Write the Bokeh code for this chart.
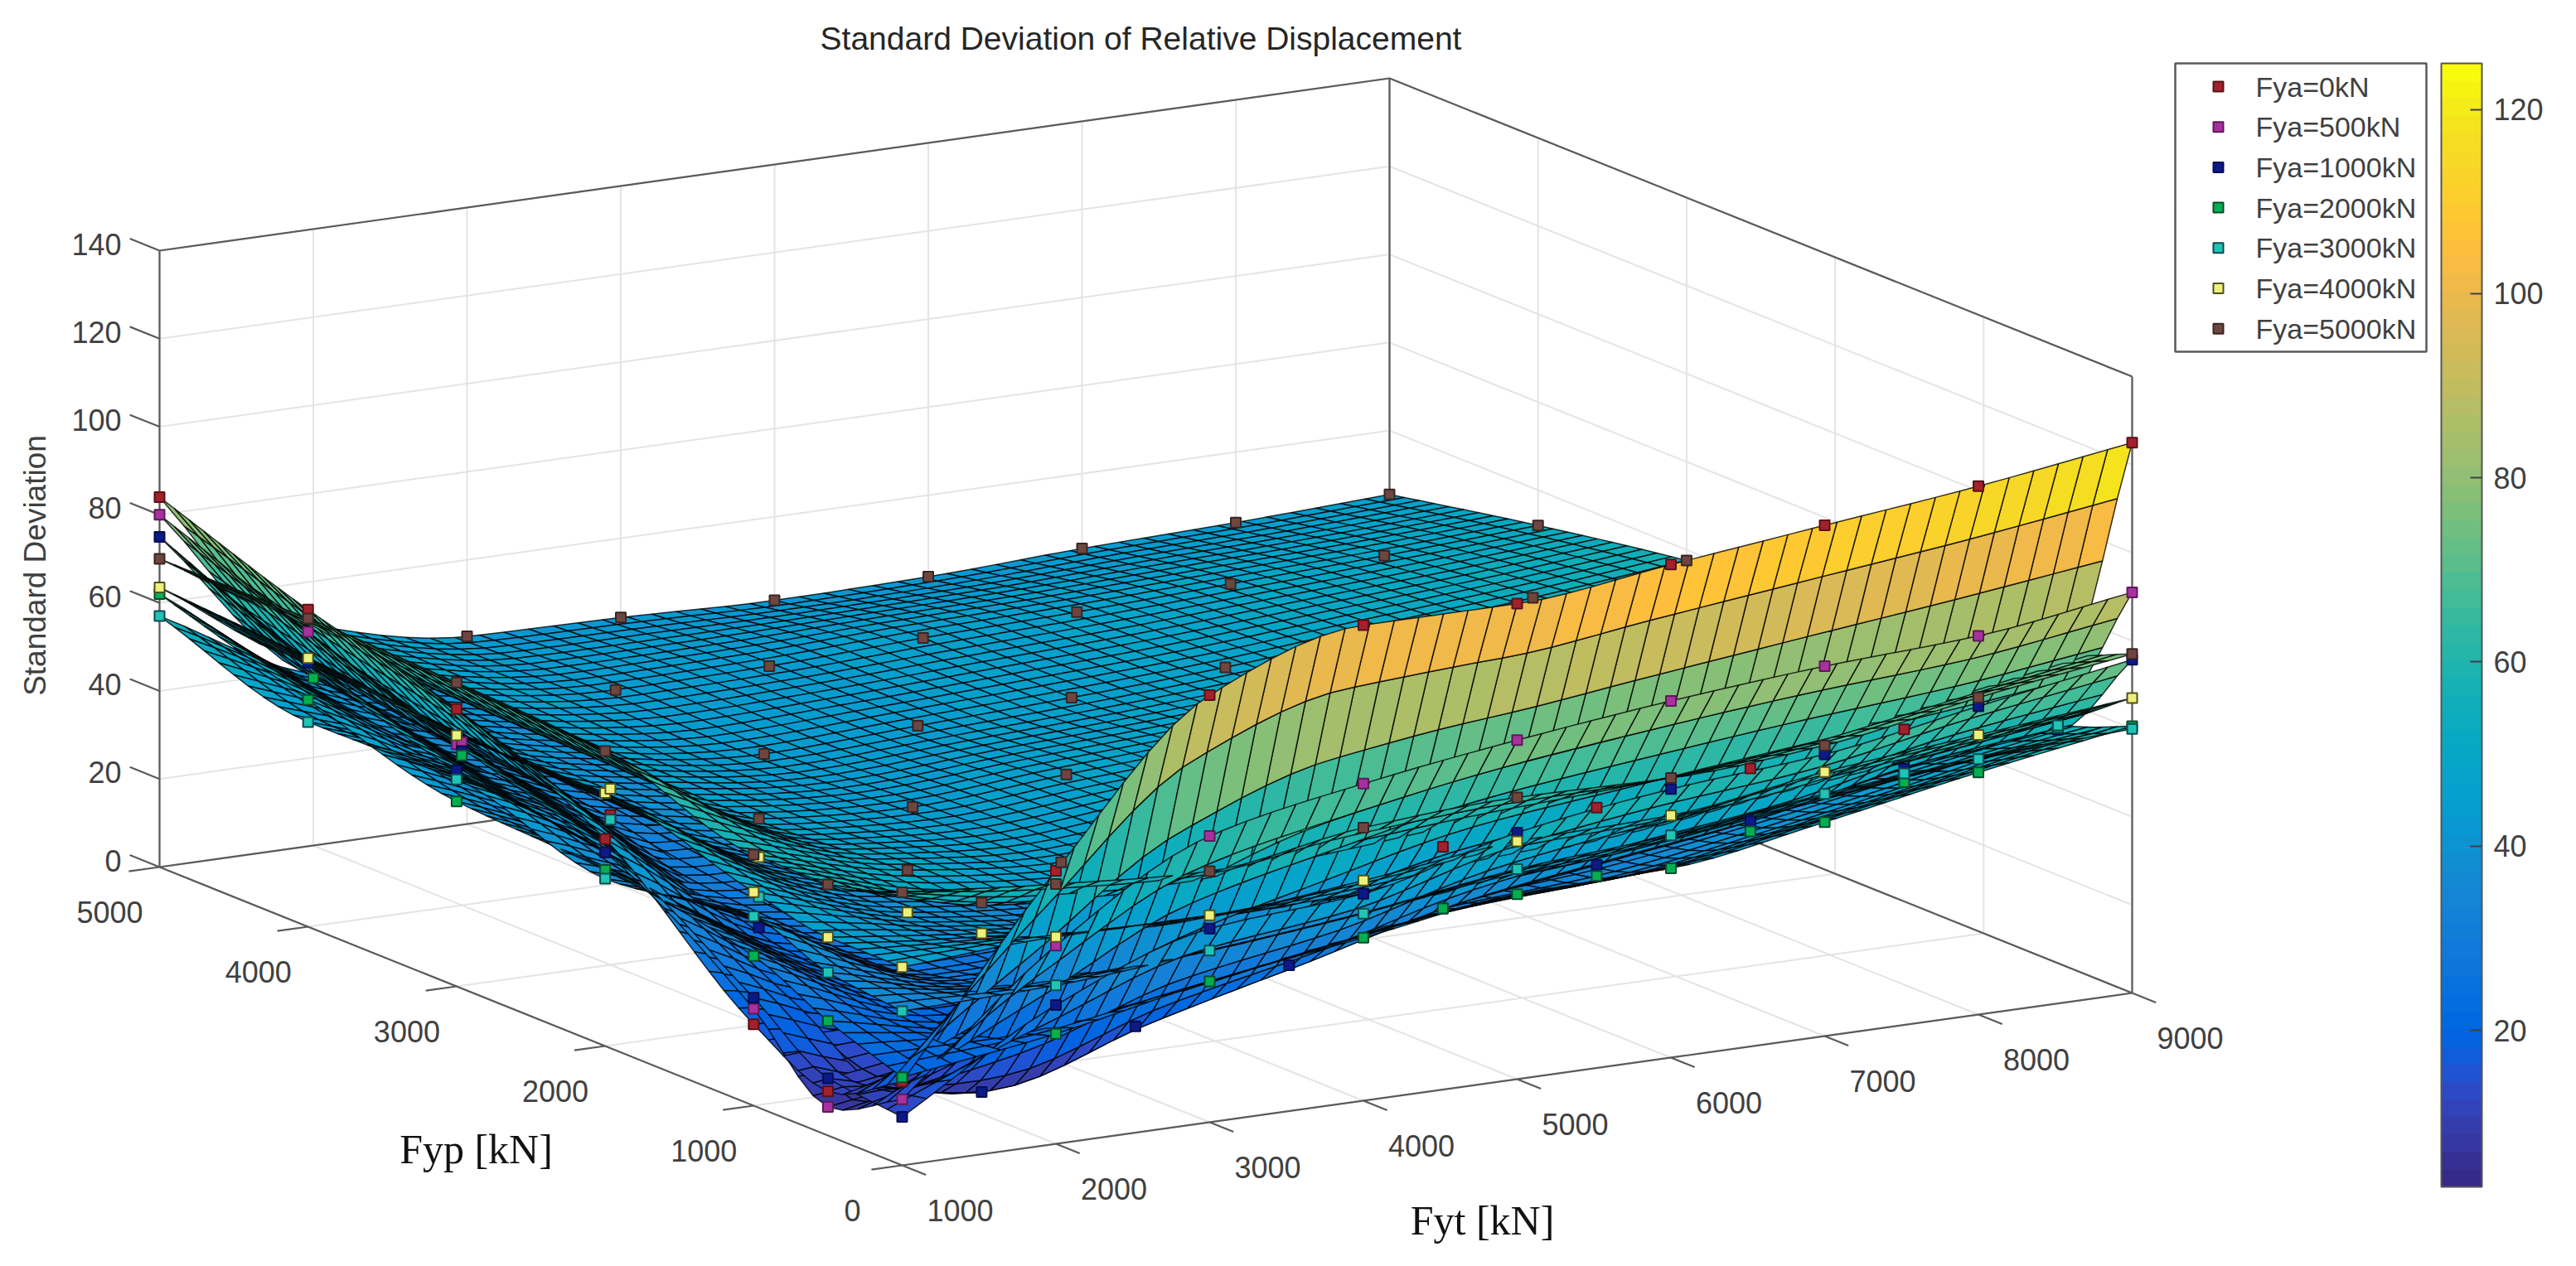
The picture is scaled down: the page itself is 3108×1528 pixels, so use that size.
import numpy as np
from bokeh.core.properties import value
from bokeh.embed import file_html
from bokeh.models import ColorBar, ColumnDataSource, FixedTicker, LinearColorMapper
from bokeh.plotting import figure
from bokeh.resources import INLINE

fyt_values = [1000, 2000, 3000, 4000, 5000, 6000, 7000, 8000, 9000]
fyp_values = [0, 500, 1000, 2000, 3000, 4000, 5000]
fyp_ticks = [0, 1000, 2000, 3000, 4000, 5000]
z_ticks = [0, 20, 40, 60, 80, 100, 120, 140]
cbar_ticks = [20, 40, 60, 80, 100, 120]
fya_labels = ["Fya=0kN", "Fya=500kN", "Fya=1000kN", "Fya=2000kN", "Fya=3000kN", "Fya=4000kN", "Fya=5000kN"]

# rows are Fyp, columns are Fyt
sd_fya_0 = [
    [19, 62, 97, 108, 108, 112, 116, 120, 125],
    [10, 16, 27, 38, 46, 50, 54, 58, 62],
    [18.5, 17, 22, 28, 33, 37, 41, 46, 52],
    [47, 25, 24, 26, 29, 32, 36, 41, 47],
    [63, 34, 30, 30, 31, 33, 36, 40, 45],
    [72, 38, 32, 31, 32, 33, 35, 38, 42],
    [84, 42, 34, 33, 33, 33, 34, 36, 39],
]
sd_fya_500 = [
    [15, 45, 65, 72, 77, 81, 84, 86, 91],
    [6.5, 12, 25, 34, 42, 46, 50, 54, 58],
    [22, 16, 21, 27, 32, 36, 40, 45, 51],
    [44, 24, 24, 26, 29, 32, 36, 41, 46],
    [55, 33, 29, 30, 31, 33, 36, 40, 45],
    [67, 37, 32, 31, 32, 33, 35, 38, 42],
    [80, 41, 34, 33, 33, 33, 34, 36, 39],
]
sd_fya_1000 = [
    [11, 31.5, 44, 47, 56, 61, 64, 70, 75.7],
    [13, 5, 15, 24, 32, 37, 42, 49, 53],
    [24.5, 13, 18, 24, 29, 33, 38, 43, 49],
    [44, 22, 22, 24, 27, 30, 34, 39, 45],
    [49, 30, 27, 28, 29, 31, 34, 38, 43],
    [60, 35, 30, 29, 30, 31, 33, 36, 40],
    [75, 39, 32, 31, 31, 31, 32, 34, 37],
]
sd_fya_2000 = [
    [20, 25, 32, 37, 42, 43, 48.6, 55, 60.6],
    [26, 20, 22, 28, 32, 34.5, 39.7, 46, 53.5],
    [34, 20, 22, 25, 29, 32, 36, 41, 48],
    [40, 24, 24, 25, 27, 29, 33, 38, 44],
    [42, 30, 27, 27, 28, 30, 33, 37, 42],
    [51.5, 34, 29, 28, 29, 30, 32, 35, 39],
    [62, 38, 31, 30, 30, 30, 31, 33, 36],
]
sd_fya_3000 = [
    [35, 36, 39, 42.5, 47.7, 50.5, 55, 58, 60],
    [37, 30, 30, 33, 36, 39, 43, 48, 54],
    [43, 27, 28, 30, 32, 35, 38, 43, 49],
    [38, 29, 29, 29, 30, 32, 35, 40, 46],
    [47, 33, 31, 30, 31, 32, 35, 39, 44],
    [46.5, 36, 32, 31, 31, 32, 34, 37, 41],
    [57, 39, 33, 32, 32, 32, 33, 35, 38],
]
sd_fya_4000 = [
    [45, 47, 47, 50, 54, 55, 60, 63.5, 67],
    [45, 41, 38, 38, 40, 43, 47, 51, 56],
    [48.5, 39, 36, 36, 38, 40, 43, 47, 53],
    [57.5, 38, 35, 35, 36, 37, 40, 44, 50],
    [57, 40, 36, 35, 35, 36, 38, 42, 47],
    [61, 41, 36, 35, 35, 35, 37, 40, 44],
    [63.5, 42, 37, 35, 35, 35, 36, 38, 41],
]
sd_fya_5000 = [
    [62, 59, 57, 62, 64, 63.5, 66, 72, 77],
    [57, 48, 46, 48, 51, 55, 59, 64, 70],
    [57, 48.6, 45.5, 48, 50, 53, 57, 61, 66],
    [67, 46.7, 44.5, 47, 49, 51, 54, 58, 62],
    [69, 47, 43, 44.5, 46, 48, 51, 54, 57.6],
    [70, 48, 44, 44.5, 46, 47, 48.5, 50, 52],
    [70, 50, 42.6, 42, 41, 41.5, 43, 44, 45.5],
]
surfaces = [sd_fya_0, sd_fya_500, sd_fya_1000, sd_fya_2000, sd_fya_3000, sd_fya_4000, sd_fya_5000]

marker_fill = ["#a3212c", "#a8309f", "#0b1a86", "#00b050", "#1fc4b4", "#eef07c", "#6e4640"]
marker_line = ["#5a1018", "#5e1a58", "#050d50", "#0a4a2c", "#0b4a50", "#50501c", "#3a2422"]

parula = [
    (0.2081, 0.1663, 0.5292), (0.2116, 0.1898, 0.5777), (0.2123, 0.2138, 0.6270), (0.2081, 0.2386, 0.6771),
    (0.1959, 0.2645, 0.7279), (0.1707, 0.2919, 0.7792), (0.1253, 0.3242, 0.8303), (0.0591, 0.3598, 0.8683),
    (0.0117, 0.3875, 0.8820), (0.0060, 0.4086, 0.8828), (0.0165, 0.4266, 0.8786), (0.0329, 0.4430, 0.8720),
    (0.0498, 0.4586, 0.8641), (0.0629, 0.4737, 0.8554), (0.0723, 0.4887, 0.8467), (0.0779, 0.5040, 0.8384),
    (0.0793, 0.5200, 0.8312), (0.0749, 0.5375, 0.8263), (0.0641, 0.5570, 0.8240), (0.0488, 0.5772, 0.8228),
    (0.0343, 0.5966, 0.8199), (0.0265, 0.6137, 0.8135), (0.0239, 0.6287, 0.8038), (0.0231, 0.6418, 0.7913),
    (0.0228, 0.6535, 0.7768), (0.0267, 0.6642, 0.7607), (0.0384, 0.6743, 0.7436), (0.0590, 0.6838, 0.7254),
    (0.0843, 0.6928, 0.7062), (0.1133, 0.7015, 0.6859), (0.1453, 0.7098, 0.6646), (0.1801, 0.7177, 0.6424),
    (0.2178, 0.7250, 0.6193), (0.2586, 0.7317, 0.5954), (0.3022, 0.7376, 0.5712), (0.3482, 0.7424, 0.5473),
    (0.3953, 0.7459, 0.5244), (0.4420, 0.7481, 0.5033), (0.4871, 0.7491, 0.4840), (0.5300, 0.7491, 0.4661),
    (0.5709, 0.7485, 0.4494), (0.6099, 0.7473, 0.4337), (0.6473, 0.7456, 0.4188), (0.6834, 0.7435, 0.4044),
    (0.7184, 0.7411, 0.3905), (0.7525, 0.7384, 0.3768), (0.7858, 0.7356, 0.3633), (0.8185, 0.7327, 0.3498),
    (0.8507, 0.7299, 0.3360), (0.8824, 0.7274, 0.3217), (0.9139, 0.7258, 0.3063), (0.9450, 0.7261, 0.2886),
    (0.9739, 0.7314, 0.2666), (0.9938, 0.7455, 0.2403), (0.9990, 0.7653, 0.2164), (0.9955, 0.7861, 0.1967),
    (0.9880, 0.8066, 0.1794), (0.9789, 0.8271, 0.1633), (0.9697, 0.8481, 0.1475), (0.9626, 0.8705, 0.1309),
    (0.9589, 0.8949, 0.1132), (0.9598, 0.9218, 0.0948), (0.9661, 0.9514, 0.0755), (0.9763, 0.9831, 0.0538),
]
palette = ["#%02x%02x%02x" % tuple(int(round(c * 255)) for c in rgb) for rgb in parula]
clim = (3, 125)

# orthographic view of the axes box, in page pixels
origin = (1096, 1414)
fyt_vec = (1484, -208)
fyp_vec = (-896, -360)
z_px = -744
text_color = "#404040"
sans = value("Liberation Sans")


def project(fyt, fyp, z):
    u = (np.asarray(fyt, dtype=float) - 1000) / 8000
    v = np.asarray(fyp, dtype=float) / 5000
    w = np.asarray(z, dtype=float) / 140
    return origin[0] + u * fyt_vec[0] + v * fyp_vec[0], origin[1] + u * fyt_vec[1] + v * fyp_vec[1] + w * z_px


def depth(fyt, fyp, z):
    return 0.0299 * (fyt - 1000) / 8000 + 0.0494 * fyp / 5000 - 0.032 * z / 140


def monotone(xs, ys, xq):
    # shape preserving cubic through the read values, used to draw the facets
    xs, ys = np.asarray(xs, dtype=float), np.asarray(ys, dtype=float)
    h = np.diff(xs)
    d = np.diff(ys) / h
    m = np.zeros_like(ys)
    m[0], m[-1] = d[0], d[-1]
    for i in range(1, len(xs) - 1):
        if d[i - 1] * d[i] > 0:
            w1, w2 = 2 * h[i] + h[i - 1], h[i] + 2 * h[i - 1]
            m[i] = (w1 + w2) / (w1 / d[i - 1] + w2 / d[i])
    i = np.clip(np.searchsorted(xs, xq, side="right") - 1, 0, len(h) - 1)
    t = (xq - xs[i]) / h[i]
    return ((2 * t**3 - 3 * t**2 + 1) * ys[i] + (t**3 - 2 * t**2 + t) * h[i] * m[i]
            + (-2 * t**3 + 3 * t**2) * ys[i + 1] + (t**3 - t**2) * h[i] * m[i + 1])


mesh_fyt = np.linspace(1000, 9000, 51)
mesh_fyp = np.linspace(0, 5000, 51)

poly_x, poly_y, poly_d, poly_c = [], [], [], []
for table in surfaces:
    table = np.array(table, dtype=float)
    along_fyt = np.array([monotone(fyt_values, row, mesh_fyt) for row in table])
    mesh = np.array([monotone(fyp_values, along_fyt[:, j], mesh_fyp) for j in range(len(mesh_fyt))]).T
    tt, pp = np.meshgrid(mesh_fyt, mesh_fyp)
    sx, sy = project(tt, pp, mesh)
    dd = depth(tt, pp, mesh)
    for r in range(len(mesh_fyp) - 1):
        for c in range(len(mesh_fyt) - 1):
            poly_x.append([sx[r, c], sx[r, c + 1], sx[r + 1, c + 1], sx[r + 1, c]])
            poly_y.append([sy[r, c], sy[r, c + 1], sy[r + 1, c + 1], sy[r + 1, c]])
            poly_d.append(dd[r:r + 2, c:c + 2].mean())
            level = (mesh[r:r + 2, c:c + 2].mean() - clim[0]) / (clim[1] - clim[0])
            poly_c.append(palette[int(np.clip(level * 64, 0, 63))])

poly_x, poly_y, poly_d = np.array(poly_x), np.array(poly_y), np.array(poly_d)
order = np.argsort(-poly_d)

p = figure(width=3092, height=1512, x_range=(8, 3100), y_range=(1520, 8), output_backend="svg",
           toolbar_location=None, min_border=0)
p.axis.visible = False
p.grid.visible = False
p.outline_line_color = None

# grid on the floor and the two back walls
grid_x, grid_y = [], []
for t in fyt_values:
    for a, b in [((t, 0, 0), (t, 5000, 0)), ((t, 5000, 0), (t, 5000, 140))]:
        sx, sy = project([a[0], b[0]], [a[1], b[1]], [a[2], b[2]])
        grid_x.append(list(sx))
        grid_y.append(list(sy))
for f in fyp_ticks:
    for a, b in [((1000, f, 0), (9000, f, 0)), ((9000, f, 0), (9000, f, 140))]:
        sx, sy = project([a[0], b[0]], [a[1], b[1]], [a[2], b[2]])
        grid_x.append(list(sx))
        grid_y.append(list(sy))
for z in z_ticks:
    sx, sy = project([1000, 9000, 9000], [5000, 5000, 0], [z, z, z])
    grid_x.append(list(sx))
    grid_y.append(list(sy))
p.multi_line(grid_x, grid_y, line_color="#e4e4e4", line_width=2)

# box edges and ticks
box_edges = [
    ((1000, 5000, 0), (1000, 5000, 140)), ((1000, 5000, 140), (9000, 5000, 140)),
    ((9000, 5000, 140), (9000, 0, 140)), ((9000, 0, 140), (9000, 0, 0)),
    ((9000, 5000, 0), (9000, 5000, 140)), ((1000, 5000, 0), (9000, 5000, 0)),
    ((9000, 5000, 0), (9000, 0, 0)), ((1000, 5000, 0), (1000, 0, 0)), ((1000, 0, 0), (9000, 0, 0)),
]
for z in z_ticks:
    box_edges.append(((1000, 5000, z), (1000, 5200, z)))
for f in fyp_ticks:
    box_edges.append(((1000, f, 0), (800, f, 0)))
for t in fyt_values:
    box_edges.append(((t, 0, 0), (t, -160, 0)))
edge_x, edge_y = [], []
for a, b in box_edges:
    sx, sy = project([a[0], b[0]], [a[1], b[1]], [a[2], b[2]])
    edge_x.append(list(sx))
    edge_y.append(list(sy))
p.multi_line(edge_x, edge_y, line_color="#5a5a5a", line_width=2.2)

surface_source = ColumnDataSource(dict(
    xs=[list(poly_x[i]) for i in order],
    ys=[list(poly_y[i]) for i in order],
    color=[poly_c[i] for i in order],
))
p.patches("xs", "ys", source=surface_source, fill_color="color", line_color="black", line_width=1.5, line_alpha=0.8)

# markers: only those not covered by a nearer facet
for table, fill, line in zip(surfaces, marker_fill, marker_line):
    mx, my = [], []
    for r, fyp in enumerate(fyp_values):
        for c, fyt in enumerate(fyt_values):
            z = table[r][c]
            x0, y0 = project(fyt, fyp, z)
            d0 = depth(fyt, fyp, z)
            near = poly_d < d0 - 0.003
            qx, qy = poly_x[near], poly_y[near]
            nx, ny = np.roll(qx, -1, axis=1), np.roll(qy, -1, axis=1)
            cross = (nx - qx) * (y0 - qy) - (ny - qy) * (x0 - qx)
            inside = np.all(cross >= 0, axis=1) | np.all(cross <= 0, axis=1)
            if not inside.any():
                mx.append(float(x0))
                my.append(float(y0))
    p.scatter(mx, my, marker="square", size=12, fill_color=fill, line_color=line, line_width=2)

# tick labels
sx, sy = project([1000] * len(z_ticks), [5000] * len(z_ticks), z_ticks)
p.text(sx - 46, sy - 8, text=[str(z) for z in z_ticks], text_font=sans, text_font_size="36px", text_color=text_color,
       text_align="right", text_baseline="middle")
sx, sy = project([1000] * len(fyp_ticks), fyp_ticks, [0] * len(fyp_ticks))
p.text(sx - 60, sy + 54, text=[str(f) for f in fyp_ticks], text_font=sans, text_font_size="36px", text_color=text_color,
       text_align="center", text_baseline="middle")
sx, sy = project(fyt_values, [0] * len(fyt_values), [0] * len(fyt_values))
p.text(sx + 70, sy + 54, text=[str(t) for t in fyt_values], text_font=sans, text_font_size="36px", text_color=text_color,
       text_align="center", text_baseline="middle")

p.text([1384], [54], text=["Standard Deviation of Relative Displacement"], text_font=sans, text_font_size="39px",
       text_color="#262626", text_align="center", text_baseline="middle")
p.text([50], [690], text=["Standard Deviation"], angle=np.pi / 2, text_font=sans, text_font_size="37px",
       text_color=text_color, text_align="center", text_baseline="middle")
p.text([582], [1394], text=["Fyp [kN]"], text_font=value("Liberation Serif"), text_font_size="50px",
       text_color="#111111", text_align="center", text_baseline="middle")
p.text([1796], [1480], text=["Fyt [kN]"], text_font=value("Liberation Serif"), text_font_size="50px",
       text_color="#111111", text_align="center", text_baseline="middle")

# legend
p.quad(left=[2632], right=[2935], top=[84], bottom=[432], fill_color="white", line_color="#5a5a5a", line_width=2.5)
legend_y = [112 + 48.7 * i for i in range(len(fya_labels))]
for i, label in enumerate(fya_labels):
    p.scatter([2684], [legend_y[i]], marker="square", size=12, fill_color=marker_fill[i], line_color=marker_line[i], line_width=2)
    p.text([2729], [legend_y[i]], text=[label], text_font=sans, text_font_size="34px", text_color=text_color,
           text_align="left", text_baseline="middle")

mapper = LinearColorMapper(palette=palette, low=clim[0], high=clim[1])
bar = ColorBar(color_mapper=mapper, ticker=FixedTicker(ticks=cbar_ticks), location=(2945, 80), width=49, height=1356,
               padding=0, margin=0, major_tick_in=14, major_tick_out=0, major_tick_line_color="#404040",
               major_tick_line_width=2, minor_tick_line_color=None, bar_line_color="#555555", bar_line_width=2,
               major_label_text_font="Liberation Sans", major_label_text_font_size="36px",
               major_label_text_color=text_color, label_standoff=14, background_fill_alpha=0, border_line_color=None)
p.add_layout(bar, "center")

open("out.html", "w").write(file_html(p, INLINE))
